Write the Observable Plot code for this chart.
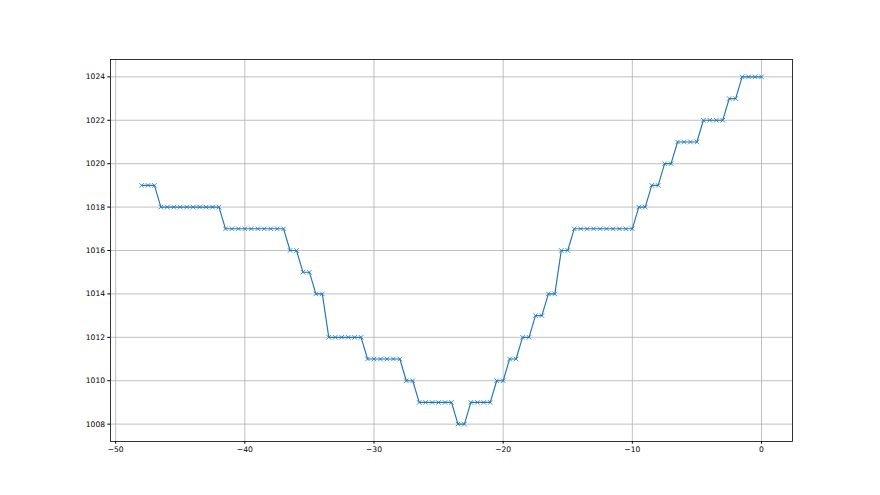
<!DOCTYPE html>
<html>
<head>
<meta charset="utf-8">
<script src="https://cdn.jsdelivr.net/npm/d3@7"></script>
<script src="https://cdn.jsdelivr.net/npm/@observablehq/plot@0.6"></script>
<style>
  html, body { margin: 0; padding: 0; background: #fff; }
  #chart svg { display: block; }
</style>
</head>
<body>
<div id="chart"></div>
<script>
const xValues = [-48,-47.5,-47,-46.5,-46,-45.5,-45,-44.5,-44,-43.5,-43,-42.5,-42,-41.5,-41,-40.5,-40,-39.5,-39,-38.5,-38,-37.5,-37,-36.5,-36,-35.5,-35,-34.5,-34,-33.5,-33,-32.5,-32,-31.5,-31,-30.5,-30,-29.5,-29,-28.5,-28,-27.5,-27,-26.5,-26,-25.5,-25,-24.5,-24,-23.5,-23,-22.5,-22,-21.5,-21,-20.5,-20,-19.5,-19,-18.5,-18,-17.5,-17,-16.5,-16,-15.5,-15,-14.5,-14,-13.5,-13,-12.5,-12,-11.5,-11,-10.5,-10,-9.5,-9,-8.5,-8,-7.5,-7,-6.5,-6,-5.5,-5,-4.5,-4,-3.5,-3,-2.5,-2,-1.5,-1,-0.5,0];
const yValues = [
  1019,1019,1019,
  1018,1018,1018,1018,1018,1018,1018,1018,1018,1018,
  1017,1017,1017,1017,1017,1017,1017,1017,1017,1017,
  1016,1016,
  1015,1015,
  1014,1014,
  1012,1012,1012,1012,1012,1012,
  1011,1011,1011,1011,1011,1011,
  1010,1010,
  1009,1009,1009,1009,1009,1009,
  1008,1008,
  1009,1009,1009,1009,
  1010,1010,
  1011,1011,
  1012,1012,
  1013,1013,
  1014,1014,
  1016,1016,
  1017,1017,1017,1017,1017,1017,1017,1017,1017,1017,
  1018,1018,
  1019,1019,
  1020,1020,
  1021,1021,1021,1021,
  1022,1022,1022,1022,
  1023,1023,
  1024,1024,1024,1024
];
const xTicks = [-50,-40,-30,-20,-10,0];
const yTicks = [1008,1010,1012,1014,1016,1018,1020,1022,1024];

const data = xValues.map((x, i) => ({x, y: yValues[i]}));
const blue = "#1f77b4";

const chart = Plot.plot({
  width: 880,
  height: 495,
  marginLeft: 110,
  marginRight: 88,
  marginTop: 59,
  marginBottom: 54,
  style: {fontFamily: "DejaVu Sans", fontSize: "7.6px", color: "#000", background: "#fff"},
  x: {domain: [-50.4, 2.4], label: null},
  y: {domain: [1007.2, 1024.8], label: null},
  marks: [
    Plot.gridX(xTicks, {stroke: "#b0b0b0", strokeOpacity: 1, strokeWidth: 0.8}),
    Plot.gridY(yTicks, {stroke: "#b0b0b0", strokeOpacity: 1, strokeWidth: 0.8}),
    Plot.line(data, {x: "x", y: "y", stroke: blue, strokeWidth: 1.15}),
    Plot.dot(data, {x: "x", y: "y", symbol: "times", r: 2.2, stroke: blue, strokeWidth: 0.8}),
    Plot.frame({stroke: "#000", strokeWidth: 0.8}),
    Plot.axisX(xTicks, {tickSize: 2.7, tickPadding: 2.7, label: null, tickFormat: d3.format("d"), fontSize: 7.6}),
    Plot.axisY(yTicks, {tickSize: 2.7, tickPadding: 2.7, label: null, tickFormat: d3.format("d"), fontSize: 7.6})
  ]
});
document.getElementById("chart").appendChild(chart);
</script>
</body>
</html>
